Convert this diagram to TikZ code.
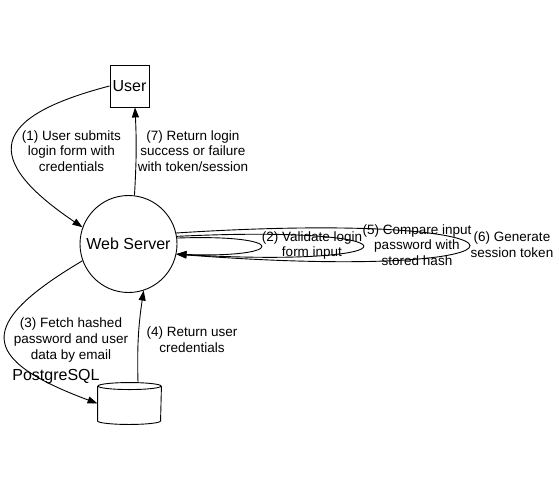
\documentclass[tikz,border=0pt]{standalone}
\usepackage{fontspec}
\setmainfont{Liberation Sans}
\usetikzlibrary{arrows.meta,shapes.geometric}
\begin{document}
\begin{tikzpicture}[x=1pt,y=-1pt,line width=0.9pt,
  every node/.style={inner sep=0pt},
  box/.style={draw,rectangle,minimum width=39pt,minimum height=42pt,font=\fontsize{16}{18}\selectfont},
  circ/.style={draw,circle,minimum size=97pt,font=\fontsize{16}{18}\selectfont},
  db/.style={rectangle,minimum width=63pt,minimum height=41pt},
  ntext/.style={font=\fontsize{16}{18}\selectfont},
  lbl/.style={align=center,font=\fontsize{13.5}{15.8}\selectfont},
  arr/.style={-{Triangle[length=10pt,width=7pt]}}]
\fill[white] (0,0) rectangle (559,490);
\useasboundingbox (0,0) rectangle (559,490);
\node[box] (user) at (129.5,86) {User};
\node[circ] (ws) at (128.5,244) {Web Server};
\node[db] (pg) at (129.5,403.5) {};
% cylinder outline of the database node
\draw ([yshift=-3.5pt]pg.north) ellipse[x radius=31.5pt,y radius=3.5pt];
\draw ([yshift=-3.5pt]pg.north west) -- ([yshift=3.5pt]pg.south west)
  arc[start angle=180,end angle=360,x radius=31.5pt,y radius=3.5pt]
  -- ([yshift=-3.5pt]pg.north east);
\node[ntext] (pglbl) at (56,377) {PostgreSQL};
% edges
\draw[arr] (user.west) .. controls +(-119,31) and +(-102,-69) .. (ws.160);
\draw[arr] (ws.83) to[bend right=3] ([xshift=5.5pt]user.south);
\draw[arr] (ws.200) .. controls +(-108,64) and +(-118,-44) .. (pg.west);
\draw[arr] ([xshift=8.5pt]pg.north) to[bend left=5] (ws.-72);
\draw[arr] (ws.7) .. controls +(112,-4) and +(112,4) .. (ws.-12);
\draw[arr] (ws.9.5) .. controls +(248,-12) and +(248,14) .. (ws.-12);
\draw[arr] (ws.13) .. controls +(390,-25) and +(390,30) .. (ws.-12);
% labels
\node[lbl] (l1) at (71.5,151) {(1) User submits\\login form with\\credentials};
\node[lbl] (l7) at (193,151) {(7) Return login\\success or failure\\with token/session};
\node[lbl] (l2) at (312,245.5) {(2) Validate login\\form input};
\node[lbl] (l5) at (417,245) {(5) Compare input\\password with\\stored hash};
\node[lbl] (l6) at (512,245) {(6) Generate\\session token};
\node[lbl] (l3) at (71,340) {(3) Fetch hashed\\password and user\\data by email};
\node[lbl] (l4) at (192,339.5) {(4) Return user\\credentials};
\end{tikzpicture}
\end{document}
